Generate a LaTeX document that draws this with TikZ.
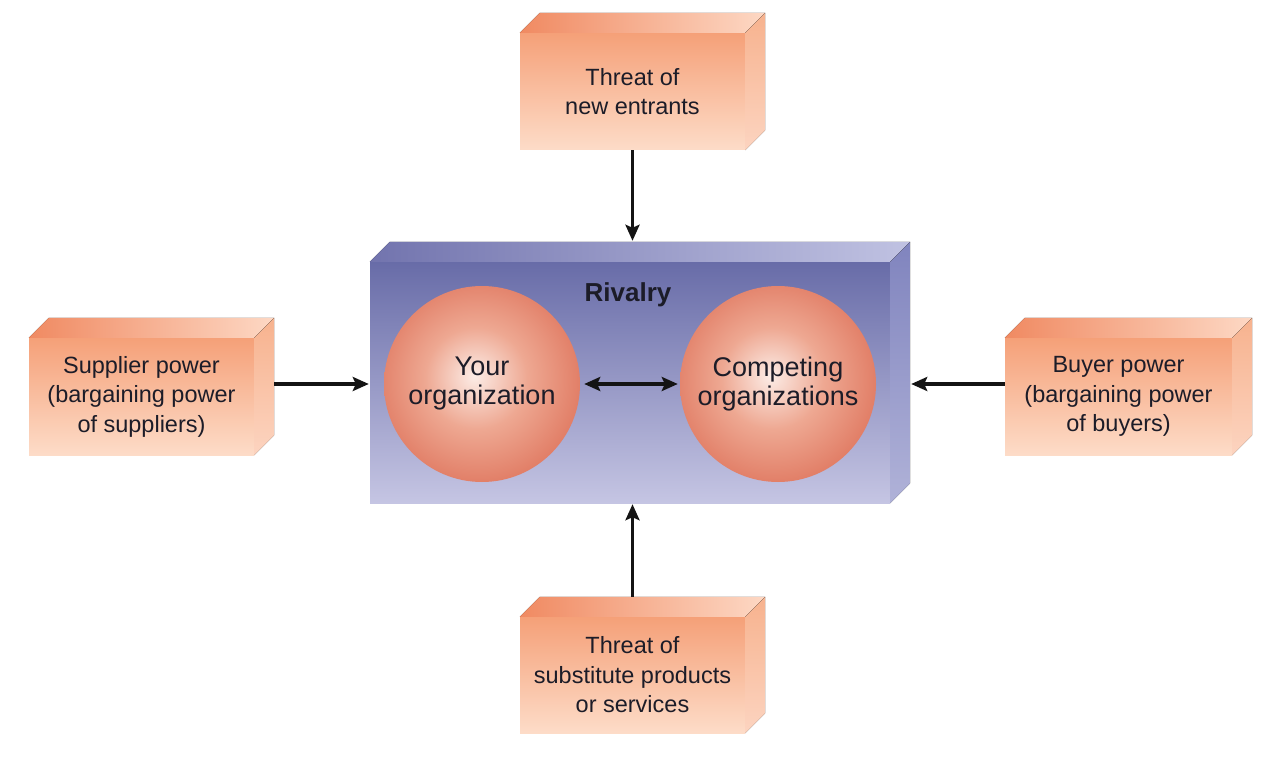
\documentclass[tikz,border=0pt]{standalone}
\usepackage{fontspec}
\setmainfont{Liberation Sans}
\usetikzlibrary{calc,arrows.meta}
\definecolor{ofront1}{RGB}{245,160,120}
\definecolor{ofront2}{RGB}{253,220,200}
\definecolor{otop1}{RGB}{240,138,98}
\definecolor{otop2}{RGB}{253,216,196}
\definecolor{oside1}{RGB}{247,178,142}
\definecolor{oside2}{RGB}{252,212,192}
\definecolor{bfront1}{RGB}{104,108,168}
\definecolor{bfront2}{RGB}{197,197,227}
\definecolor{btop1}{RGB}{114,116,174}
\definecolor{btop2}{RGB}{192,194,226}
\definecolor{bside1}{RGB}{128,132,190}
\definecolor{bside2}{RGB}{176,178,216}
\definecolor{txt}{RGB}{28,28,40}
\definecolor{arrowc}{RGB}{20,20,20}
\definecolor{orbin}{RGB}{252,236,230}
\definecolor{orbmid}{RGB}{238,168,146}
\definecolor{orbout}{RGB}{220,108,84}
\definecolor{orbedge}{RGB}{212,90,66}
\pgfdeclareradialshading{orbshade}{\pgfpoint{-2bp}{2bp}}{color(0bp)=(orbin); color(13bp)=(orbmid); color(32bp)=(orbout); color(50bp)=(orbedge)}
\tikzset{
  forcebox/.style={rectangle, inner sep=0pt, minimum width=225pt, minimum height=117pt,
    top color=ofront1, bottom color=ofront2, text=txt, align=center,
    font=\fontsize{23.5}{29.5}\selectfont},
  orb/.style={circle, inner sep=0pt, minimum size=196pt, shading=orbshade, text=txt,
    align=center, font=\fontsize{27}{29}\selectfont},
  arr/.style={line width=3.3pt, draw=arrowc, -{Stealth[length=16pt,width=14pt,inset=3pt]}},
  darr/.style={line width=3.3pt, draw=arrowc, {Stealth[length=16pt,width=14pt,inset=3pt]}-{Stealth[length=16pt,width=14pt,inset=3pt]}},
}
\begin{document}
\begin{tikzpicture}[x=1pt,y=-1pt]
\useasboundingbox[fill=white] (0,0) rectangle (1267,759);

% central rivalry box
\node[rectangle, inner sep=0pt, minimum width=520pt, minimum height=241pt,
  top color=bfront1, bottom color=bfront2] (rival) at (630,382.5) {};
\fill[left color=btop1, right color=btop2] (rival.north west) -- ++(20,-20) -- ($(rival.north east)+(20,-20)$) -- (rival.north east) -- cycle;
\fill[top color=bside1, bottom color=bside2] (rival.north east) -- ++(20,-20) -- ($(rival.south east)+(20,-20)$) -- (rival.south east) -- cycle;
\node[text=txt, font=\bfseries\fontsize{26}{29}\selectfont] (rivl) at (628,295) {Rivalry};

\node[orb] (your) at (482,384) {Your\\organization};
\node[orb] (comp) at (778,384) {Competing\\organizations};

% force boxes
\node[forcebox] (top) at (632.5,91.5) {Threat of\\new entrants};
\node[forcebox] (sup) at (141.5,396.5) {Supplier power\\(bargaining power\\of suppliers)};
\node[forcebox, minimum width=227pt] (buy) at (1118.5,396.5) {Buyer power\\(bargaining power\\of buyers)};
\node[forcebox, minimum height=116pt] (sub) at (632.5,675) {Threat of\\substitute products\\or services};

\foreach \n in {top,sup,buy,sub}{
  \fill[left color=otop1, right color=otop2] (\n.north west) -- ++(20,-20) -- ($(\n.north east)+(20,-20)$) -- (\n.north east) -- cycle;
  \fill[top color=oside1, bottom color=oside2] (\n.north east) -- ++(20,-20) -- ($(\n.south east)+(20,-20)$) -- (\n.south east) -- cycle;
}

% connectors
\draw[arr, shorten >=21pt] (top.south) -- (top.south |- rival.north);
\draw[arr, shorten <=20pt, shorten >=1pt] (sub.north) -- (sub.north |- rival.south);
\draw[arr, shorten <=20pt, shorten >=1pt] (sup.east |- your.center) -- (rival.west |- your.center);
\draw[arr, shorten >=21pt] (buy.west |- comp.center) -- (rival.east |- comp.center);
\draw[darr, shorten <=4pt, shorten >=2pt] (your.east) -- (comp.west);
\end{tikzpicture}
\end{document}
